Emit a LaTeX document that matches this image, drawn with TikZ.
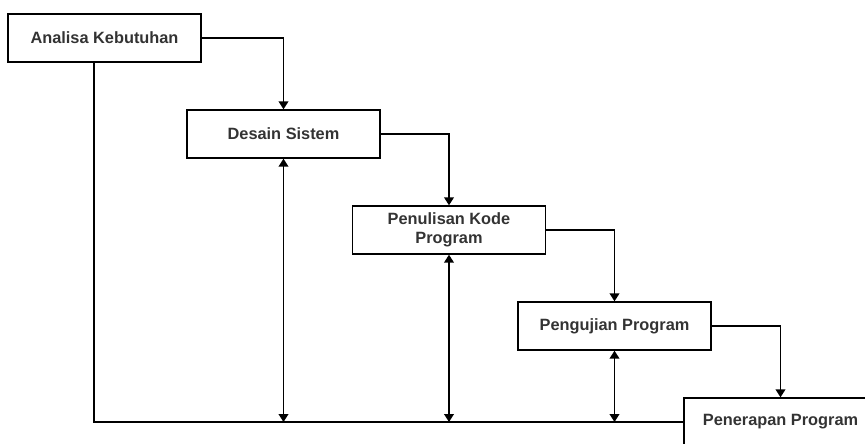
\documentclass[tikz,border=0pt]{standalone}
\usepackage{fontspec}
\setmainfont{Liberation Sans}
\usepackage{tikz}
\usepackage{xcolor}
\usetikzlibrary{arrows.meta}

\tikzset{
	tahap/.style={draw, line width=0.8pt, minimum width=3.86cm, minimum height=0.96cm, align=center, text=black!80, font=\fontsize{9.3}{11}\selectfont\bfseries, inner sep=1pt},
	alur/.style={line width=0.8pt, -{Triangle[length=4.5pt, width=5.5pt]}},
	balik/.style={line width=0.8pt, {Triangle[length=4.5pt, width=5.5pt]}-{Triangle[length=4.5pt, width=5.5pt]}}
}

\begin{document}
\begin{tikzpicture}[x=0.02cm, y=-0.02cm]
				\useasboundingbox (0,0) rectangle (865,443);
				\clip (0,0) rectangle (865,443);
				\node [tahap] (analisa) at (104.5,38) {Analisa Kebutuhan};
				\node [tahap] (desain) at (283.5,134) {Desain Sistem};
				\node [tahap] (kode) at (449,230) {Penulisan Kode\\Program};
				\node [tahap] (uji) at (614.5,326) {Pengujian Program};
				\node [tahap] (terap) at (780.5,422) {Penerapan Program};
				\coordinate (sudut) at (94,422);
				\draw [alur] (analisa.east) -| (desain.north);
				\draw [alur] (desain.east) -| (kode.north);
				\draw [alur] (kode.east) -| (uji.north);
				\draw [alur] (uji.east) -| (terap.north);
				\draw [line width=0.8pt] (sudut |- analisa.south) -- (sudut) -- (terap.west);
				\draw [balik] (desain.south) -- (desain.south |- sudut);
				\draw [balik] (kode.south) -- (kode.south |- sudut);
				\draw [balik] (uji.south) -- (uji.south |- sudut);
			\end{tikzpicture}
\end{document}
